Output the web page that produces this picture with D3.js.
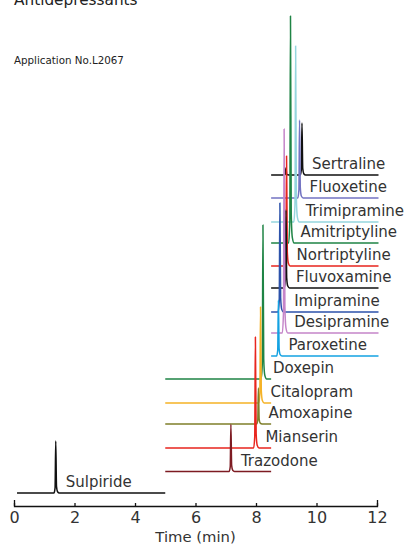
<!DOCTYPE html>
<html>
<head>
<meta charset="utf-8">
<script src="https://cdn.jsdelivr.net/npm/d3@7/dist/d3.min.js"></script>
<style>
  html, body { margin: 0; padding: 0; background: #fff; }
  svg { display: block; font-family: "DejaVu Sans", Verdana, sans-serif; }
</style>
</head>
<body>
<svg id="chart" width="410" height="545"></svg>
<script>
// Stacked chromatograms, listed from the bottom trace to the top trace.
const compounds = ["Sulpiride", "Trazodone", "Mianserin", "Amoxapine", "Citalopram", "Doxepin",
  "Paroxetine", "Desipramine", "Imipramine", "Fluvoxamine", "Nortriptyline", "Amitriptyline",
  "Trimipramine", "Fluoxetine", "Sertraline"];
const traceColors = ["#111111", "#7d1b22", "#e8251e", "#7f7f2a", "#f5b226", "#1f8445",
  "#14a2e2", "#c585c9", "#2c52aa", "#111111", "#e8251e", "#1f8445",
  "#95d6de", "#7373c2", "#111111"];
// Retention time (min) and peak height (signal units) of each compound
const retentionTimes = [1.38, 7.17, 7.98, 8.08, 8.15, 8.23, 8.74, 8.93, 8.79, 8.99, 9.01, 9.14, 9.31, 9.44, 9.52];
const peakHeights = [52, 47, 111, 36, 96, 154, 56, 204, 109, 78, 110, 227, 176, 78, 52];
// Vertical offset of each trace's baseline (signal units)
const baselineOffsets = [13, 34.5, 58, 82, 103, 127, 150, 173, 194, 218, 240, 263, 284, 308, 331];
// Which time window each trace is plotted in
const traceGroup = [0, 1, 1, 1, 1, 1, 2, 2, 2, 2, 2, 2, 2, 2, 2];
const groupStart = [0.1, 5.0, 8.5];
const groupEnd = [5.0, 8.5, 12.05];
// Minor peaks: [trace index, retention time, height]
const minorPeaks = [[14, 8.99, 7]];
// Peak profile: [time from apex (min), fraction of height]
const peakProfile = [[-0.06, 0], [-0.022, 0.1], [0, 1], [0.025, 0.13], [0.06, 0.025], [0.12, 0]];
const timeTicks = [0, 2, 4, 6, 8, 10, 12];

const svg = d3.select("#chart");
const x = d3.scaleLinear().domain([0, 12]).range([14, 377]);
const y = d3.scaleLinear().domain([0, 490]).range([506, 16]);

// Header text
svg.append("text").attr("x", 14).attr("y", 5)
  .attr("font-size", "15.3px").attr("fill", "#222").text("Antidepressants");
svg.append("text").attr("x", 14).attr("y", 64)
  .attr("font-size", "10.3px").attr("fill", "#222").text("Application No.L2067");

function tracePoints(i) {
  const off = baselineOffsets[i];
  const peaks = [[retentionTimes[i], peakHeights[i]]];
  minorPeaks.filter(m => m[0] === i).forEach(m => peaks.push([m[1], m[2]]));
  peaks.sort((a, b) => a[0] - b[0]);
  const pts = [[groupStart[traceGroup[i]], off]];
  peaks.forEach(([rt, h]) => {
    peakProfile.forEach(([dt, f]) => pts.push([rt + dt, off + h * f]));
  });
  pts.push([groupEnd[traceGroup[i]], off]);
  return pts;
}

const line = d3.line()
  .x(d => x(d[0]))
  .y(d => y(d[1]))
  .curve(d3.curveMonotoneX);

// Upper traces first so lower peaks rise over their baselines
const order = d3.range(compounds.length).reverse();
svg.append("g").selectAll("path")
  .data(order)
  .join("path")
  .attr("d", i => line(tracePoints(i)))
  .attr("fill", "none")
  .attr("stroke", i => traceColors[i])
  .attr("stroke-width", 1.5)
  .attr("stroke-linejoin", "round");

// Labels sit just right of the latest peak at or below the trace within its window
const labelTime = compounds.map((c, i) =>
  d3.max(d3.range(i + 1).filter(j => traceGroup[j] === traceGroup[i]), j => retentionTimes[j]));
svg.append("g").selectAll("text")
  .data(compounds)
  .join("text")
  .attr("x", (d, i) => x(labelTime[i]) + 10)
  .attr("y", (d, i) => y(baselineOffsets[i]) - 6)
  .attr("font-size", "15px")
  .attr("fill", "#333")
  .text(d => d);

// Time axis with upward ticks
const axis = d3.axisBottom(x)
  .tickValues(timeTicks)
  .tickFormat(d3.format("d"))
  .tickSizeInner(-3)
  .tickSizeOuter(-6)
  .tickPadding(6);
const gAxis = svg.append("g").attr("transform", `translate(0,${y(0)})`).call(axis);
gAxis.select(".domain").attr("stroke", "#111").attr("stroke-width", 1.3);
gAxis.selectAll(".tick line").attr("stroke", "#111").attr("stroke-width", 1.3);
gAxis.selectAll(".tick text")
  .attr("font-family", "DejaVu Sans, Verdana, sans-serif")
  .attr("font-size", "16px").attr("fill", "#333");

svg.append("text")
  .attr("x", x(6)).attr("y", 541.5)
  .attr("text-anchor", "middle")
  .attr("font-size", "14.8px").attr("fill", "#333")
  .text("Time (min)");
</script>
</body>
</html>
